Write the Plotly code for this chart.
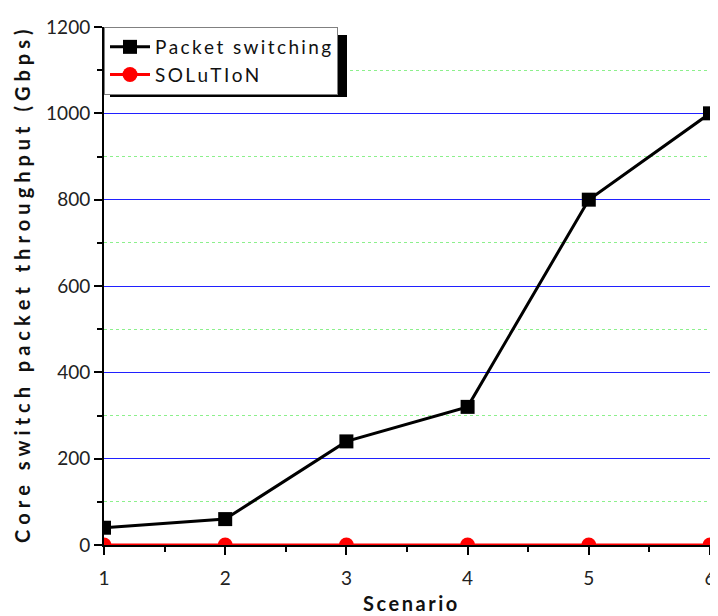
import plotly.graph_objects as go

scenarios = [1, 2, 3, 4, 5, 6]
packet_switching = [40, 60, 240, 320, 800, 1000]
solution = [0, 0, 0, 0, 0, 0]

x_title = "Scenario"
y_title = "Core switch packet throughput (Gbps)"

def spaced(s, sep="\u2009"):
    return sep.join(list(s))

FONT = "Lato"

fig = go.Figure()
fig.add_trace(go.Scatter(
    x=scenarios, y=packet_switching, mode="lines+markers",
    name=spaced("Packet switching", "\u2009"),
    line=dict(color="black", width=3),
    marker=dict(symbol="square", size=14, color="black"),
))
fig.add_trace(go.Scatter(
    x=scenarios, y=solution, mode="lines+markers",
    name=spaced("SOLuTIoN", "\u2009"),
    line=dict(color="red", width=3),
    marker=dict(symbol="circle", size=15, color="red"),
))

# page has an 8px body margin; figure coordinates = page coordinates - 8
OFF = 8
W, H = 710, 608
L, R, T, B = 96, 8, 19, 71
pw, ph = W - L - R, H - T - B

def px_x(p):
    return (p - OFF - L) / pw

def px_y(p):
    return (H - B - (p - OFF)) / ph

fig.add_shape(type="rect", xref="paper", yref="paper",
              x0=px_x(110), x1=px_x(347), y0=px_y(97), y1=px_y(35),
              fillcolor="black", line=dict(width=0), layer="above")

fig.add_annotation(text="<b>" + spaced(y_title, "\u2005") + "</b>",
                   xref="paper", yref="paper", x=px_x(22), y=px_y(287),
                   xanchor="center", yanchor="middle", textangle=-90,
                   showarrow=False, font=dict(size=20, color="#111"))
fig.add_annotation(text="<b>" + spaced(x_title) + "</b>",
                   xref="paper", yref="paper", x=px_x(410), y=px_y(603),
                   xanchor="center", yanchor="middle",
                   showarrow=False, font=dict(size=20, color="#111"))

fig.update_layout(
    width=W, height=H,
    margin=dict(l=L, r=R, t=T, b=B, autoexpand=False),
    plot_bgcolor="white", paper_bgcolor="white",
    font=dict(family=FONT, size=19, color="#222"),
    showlegend=True,
    legend=dict(x=0, y=1, xanchor="left", yanchor="top",
                bgcolor="white", bordercolor="#808080", borderwidth=1,
                font=dict(family=FONT, size=19, color="#111"),
                itemwidth=40, tracegroupgap=0),
    xaxis=dict(range=[1, 6], tickmode="linear", tick0=1, dtick=1,
               automargin=False,
               showgrid=False, zeroline=False,
               showline=True, linecolor="black", linewidth=2,
               ticks="outside", ticklen=8, tickwidth=2, tickcolor="black",
               ticklabelstandoff=7,
               minor=dict(dtick=0.5, tick0=1, ticks="outside", ticklen=5,
                          tickwidth=2, tickcolor="black", showgrid=False),
               tickfont=dict(size=19)),
    yaxis=dict(range=[0, 1200], tickmode="linear", tick0=0, dtick=200,
               automargin=False,
               showgrid=True, gridcolor="#2020ff", gridwidth=1,
               zeroline=False,
               showline=True, linecolor="black", linewidth=2,
               ticks="outside", ticklen=8, tickwidth=2, tickcolor="black",
               minor=dict(dtick=100, tick0=0, ticks="outside", ticklen=5,
                          tickwidth=2, tickcolor="black", showgrid=True,
                          gridcolor="#8cf08c", griddash="dot", gridwidth=1),
               tickfont=dict(size=19)),
)

fig.write_html("out.html")
